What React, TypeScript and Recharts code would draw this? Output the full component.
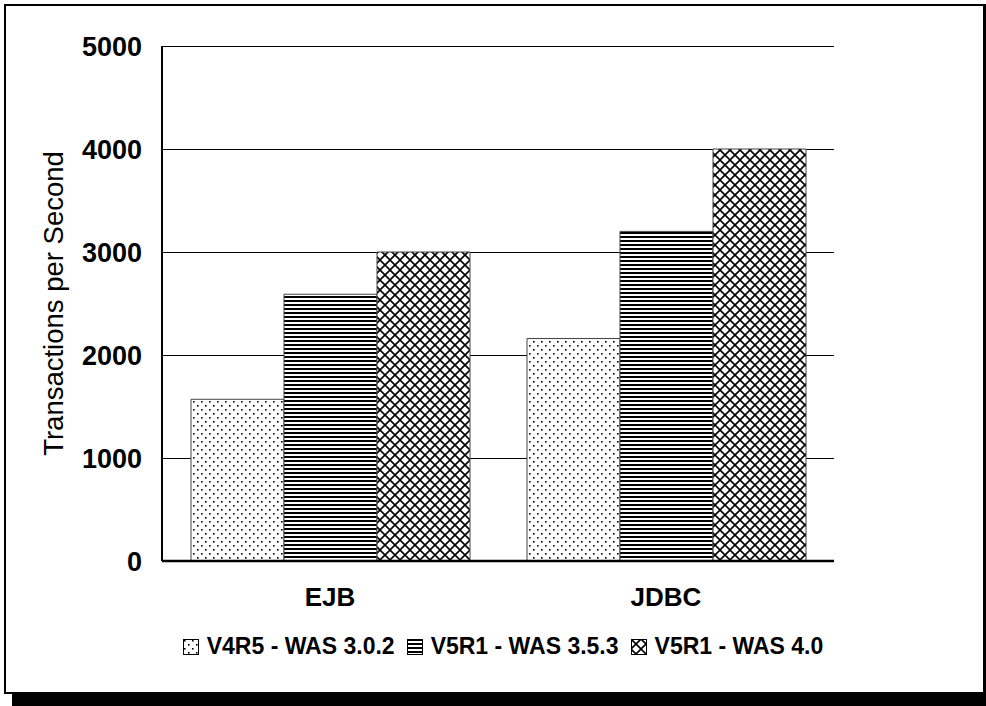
import { BarChart, Bar, XAxis, YAxis, CartesianGrid, Legend, Label } from "recharts"

const categories = ["EJB", "JDBC"]
const v4r5Was302 = [1570, 2160]
const v5r1Was353 = [2590, 3200]
const v5r1Was40 = [3000, 4000]
const seriesNames = ["V4R5 - WAS 3.0.2", "V5R1 - WAS 3.5.3", "V5R1 - WAS 4.0"]
const yTicks = [0, 1000, 2000, 3000, 4000, 5000]

const seriesKeys = ["was302", "was353", "was40"]
const patternIds = ["fill-dots", "fill-hlines", "fill-xhatch"]

const data = categories.map((name, i) => ({
  name,
  was302: v4r5Was302[i],
  was353: v5r1Was353[i],
  was40: v5r1Was40[i],
}))

const FONT = '"Liberation Sans", Arial, sans-serif'

function Patterns() {
  return (
    <svg width={0} height={0} style={{ position: "absolute" }}>
      <defs>
        <pattern id="fill-dots" width={8} height={8} patternUnits="userSpaceOnUse">
          <rect width={8} height={8} fill="#fff" />
          <rect x={1} y={1} width={1.6} height={1.6} fill="#000" />
          <rect x={5} y={5} width={1.6} height={1.6} fill="#000" />
        </pattern>
        <pattern id="fill-hlines" width={4} height={4} patternUnits="userSpaceOnUse">
          <rect width={4} height={4} fill="#fff" />
          <rect y={0} width={4} height={2} fill="#000" />
        </pattern>
        <pattern id="fill-xhatch" width={10} height={10} patternUnits="userSpaceOnUse">
          <rect width={10} height={10} fill="#fff" />
          <path d="M0,0 L10,10 M10,0 L0,10" stroke="#000" strokeWidth={1.6} />
        </pattern>
      </defs>
    </svg>
  )
}

function LegendRow() {
  return (
    <div
      style={{
        display: "flex",
        justifyContent: "center",
        alignItems: "center",
        gap: 12,
        fontWeight: "bold",
        fontSize: 23,
        fontFamily: FONT,
        color: "#000",
      }}
    >
      {seriesNames.map((n, i) => (
        <span key={n} style={{ display: "flex", alignItems: "center" }}>
          <svg width={16} height={16} style={{ marginRight: 8 }}>
            <rect x={0.5} y={0.5} width={15} height={15} fill={`url(#${patternIds[i]})`} stroke="#000" />
          </svg>
          {n}
        </span>
      ))}
    </div>
  )
}

export default function App() {
  return (
    <div style={{ position: "absolute", left: 0, top: 0, width: 986, height: 706, background: "#fff", fontFamily: FONT }}>
      <style>{`.recharts-cartesian-grid line { shape-rendering: crispEdges; }`}</style>
      <Patterns />
      {/* framed panel with a drop shadow along the bottom */}
      <div
        style={{
          position: "absolute",
          left: 4,
          top: 4,
          width: 982,
          height: 690,
          boxSizing: "border-box",
          border: "2px solid #000",
          borderRightWidth: 3,
        }}
      />
      <div style={{ position: "absolute", left: 12, top: 693, width: 974, height: 13, background: "#000" }} />

      <BarChart
        width={986}
        height={706}
        data={data}
        margin={{ top: 46, right: 152, bottom: 115, left: 62 }}
        barCategoryGap={29}
        barGap={0}
        style={{ position: "absolute", left: 0, top: 0 }}
      >
        <CartesianGrid vertical={false} stroke="#000" strokeWidth={1} />
        <XAxis
          dataKey="name"
          height={30}
          axisLine={{ stroke: "#000", strokeWidth: 2.5 }}
          tickLine={false}
          tickSize={0}
          tickMargin={27}
          tick={{ fontSize: 26, fontWeight: "bold", fill: "#000" }}
        />
        <YAxis
          width={100}
          domain={[0, 5000]}
          ticks={yTicks}
          axisLine={{ stroke: "#000", strokeWidth: 2 }}
          tickLine={false}
          tickSize={0}
          tickMargin={20}
          tick={{ fontSize: 27, fontWeight: "bold", fill: "#000" }}
        >
          <Label
            content={(props: any) => {
              const vb = props.viewBox
              const cx = vb.x + 1
              const cy = vb.y + vb.height / 2
              return (
                <text
                  x={cx}
                  y={cy}
                  transform={`rotate(-90 ${cx} ${cy})`}
                  textAnchor="middle"
                  fontSize={27.5}
                  fill="#000"
                >
                  Transactions per Second
                </text>
              )
            }}
          />
        </YAxis>
        <Legend
          layout="horizontal"
          verticalAlign="middle"
          align="center"
          wrapperStyle={{ top: 633, left: 10, width: 986 }}
          content={() => <LegendRow />}
        />
        {seriesKeys.map((k, i) => (
          <Bar
            key={k}
            dataKey={k}
            name={seriesNames[i]}
            fill={`url(#${patternIds[i]})`}
            stroke="#444"
            strokeWidth={1}
            isAnimationActive={false}
          />
        ))}
      </BarChart>
    </div>
  )
}
